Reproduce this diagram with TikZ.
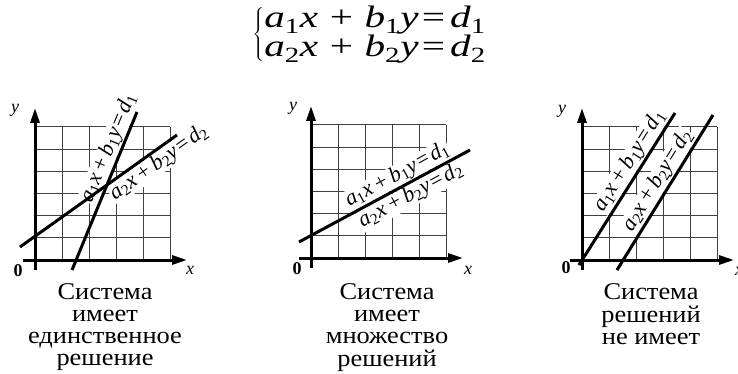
\documentclass[tikz,border=0pt]{standalone}
\usepackage{fontspec}
\setmainfont{Liberation Serif}
\usepackage{graphicx}
\usetikzlibrary{arrows.meta}
% #1 subscript, #2 space around +
\newcommand\lineeq[2]{\textit{a}\textsubscript{#1}\textit{x}\hspace{#2}+\hspace{#2}\textit{b}\textsubscript{#1}\textit{y}\hspace{.08em}=\hspace{.12em}\textit{d}\textsubscript{#1}}
\tikzset{
  gridline/.style={line width=1pt, black!75},
  axisline/.style={line width=3pt, -{Triangle[length=15pt,width=9pt]}},
  solline/.style={line width=3pt},
  lbl/.style={font=\fontsize{22}{24}\selectfont, fill=white, inner sep=0.6pt, sloped},
  capt/.style={font=\fontsize{24}{22.3}\selectfont, anchor=base, inner sep=0pt},
  zero/.style={font=\fontsize{18}{18}\selectfont\bfseries, inner sep=0pt},
  axlbl/.style={font=\fontsize{18}{18}\selectfont\itshape, inner sep=0pt},
  eqn/.style={font=\fontsize{31}{25}\selectfont, inner sep=0pt}
}
\begin{document}
\begin{tikzpicture}[x=1pt,y=-1pt]
\useasboundingbox (0,0) rectangle (738,374);
% system
\node[eqn] (sys) at (370,35) {\scalebox{1.33}[1]{$\left\{\begin{tabular}{@{}l@{}}\lineeq{1}{.28em}\\ \lineeq{2}{.28em}\end{tabular}\right.$}};
% grids
\foreach \ox/\oy in {35/260, 311/258, 582/260}{
  \begin{scope}[shift={(\ox,\oy)}]
    \foreach \i in {0,...,5} \draw[gridline] (\i*27,0) -- (\i*27,-133);
    \foreach \j in {0,...,6} \draw[gridline] (0,-\j*22.1667) -- (135,-\j*22.1667);
  \end{scope}
}
% line end points
\coordinate (s1a) at (72,270);  \coordinate (s1b) at (137,112);
\coordinate (h1a) at (20,247);  \coordinate (h1b) at (177,135);
\coordinate (c2a) at (299,242); \coordinate (c2b) at (470,150);
\coordinate (p3a) at (579,265); \coordinate (p3b) at (675,113);
\coordinate (q3a) at (617,270); \coordinate (q3b) at (713,115);
% labels (white background hides grid)
\path (s1a) -- (s1b) node[lbl, pos=0.74, above=1.5pt] (l11) {\lineeq{1}{.2em}};
\path (h1a) -- (h1b) node[lbl, pos=0.84, below=1.5pt] (l12) {\lineeq{2}{.2em}};
\path (c2a) -- (c2b) node[lbl, pos=0.61, above=1.5pt] (l21) {\lineeq{1}{.2em}};
\path (c2a) -- (c2b) node[lbl, pos=0.62, below=1.5pt] (l22) {\lineeq{2}{.2em}};
\path (p3a) -- (p3b) node[lbl, pos=0.64, above=1.5pt] (l31) {\lineeq{1}{.2em}};
\path (q3a) -- (q3b) node[lbl, pos=0.535, above=1.5pt] (l32) {\lineeq{2}{.2em}};
% axes
\foreach \ox/\oy/\n in {35/260/1, 311/258/2, 582/260/3}{
  \coordinate (xs\n) at (\ox-12,\oy); \coordinate (xe\n) at (\ox+152,\oy);
  \coordinate (ys\n) at (\ox,\oy+10); \coordinate (ye\n) at (\ox,\oy-152);
  \draw[axisline] (xs\n) -- (xe\n);
  \draw[axisline] (ys\n) -- (ye\n);
}
% solution lines
\draw[solline] (s1a) -- (s1b);
\draw[solline] (h1a) -- (h1b);
\draw[solline] (c2a) -- (c2b);
\draw[solline] (p3a) -- (p3b);
\draw[solline] (q3a) -- (q3b);
% axis labels
\node[zero] (o1) at (18,271) {0};
\node[zero] (o2) at (297,269) {0};
\node[zero] (o3) at (566,268) {0};
\node[axlbl] (y1) at (15,110) {y};
\node[axlbl] (y2) at (293,108) {y};
\node[axlbl] (y3) at (562,111) {y};
\node[axlbl] (x1) at (190,270) {x};
\node[axlbl] (x2) at (468,270) {x};
\node[axlbl] (x3) at (739,271) {x};
% captions
\node[capt] (c1) at (105,299) {\scalebox{1.1}[1]{\begin{tabular}[t]{@{}c@{}}Система\\имеет\\единственное\\решение\end{tabular}}};
\node[capt] (c2) at (387,299) {\scalebox{1.1}[1]{\begin{tabular}[t]{@{}c@{}}Система\\имеет\\множество\\решений\end{tabular}}};
\node[capt] (c3) at (651,299) {\scalebox{1.1}[1]{\begin{tabular}[t]{@{}c@{}}Система\\решений\\не имеет\end{tabular}}};
\end{tikzpicture}
\end{document}
